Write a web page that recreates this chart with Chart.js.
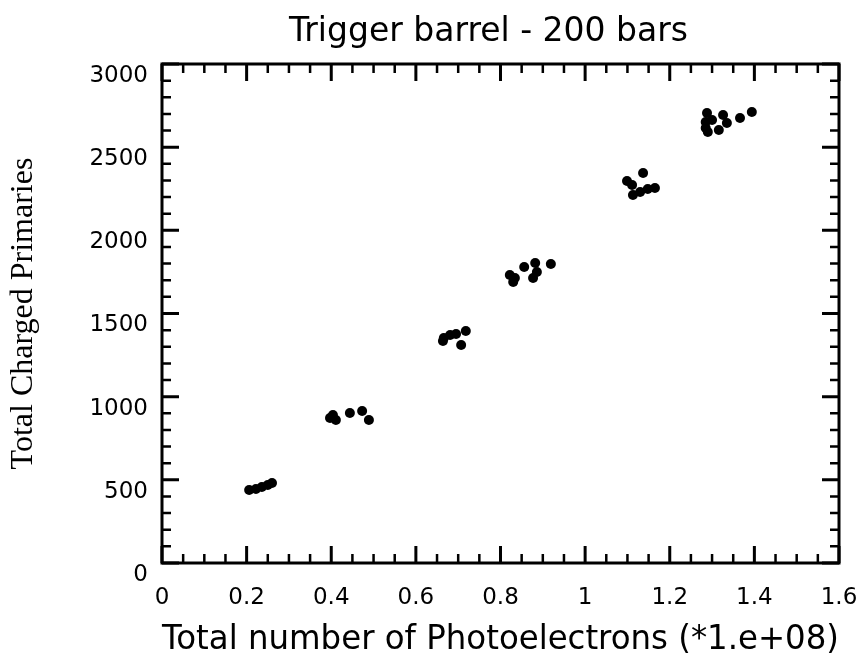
<!DOCTYPE html>
<html>
<head>
<meta charset="utf-8">
<title>Trigger barrel - 200 bars</title>
<script src="https://cdn.jsdelivr.net/npm/chart.js@4/dist/chart.umd.min.js"></script>
<style>
  html, body { margin: 0; padding: 0; background: #fff; }
  #wrap { width: 859px; height: 661px; }
</style>
</head>
<body>
<div id="wrap"><canvas id="chart" width="859" height="661"></canvas></div>
<script>
// Total number of photoelectrons (units of 1e8) per event
const photoelectrons = [
  0.206, 0.222, 0.236, 0.250, 0.260,
  0.397, 0.411, 0.404, 0.444, 0.473, 0.489,
  0.664, 0.666, 0.681, 0.695, 0.718, 0.707,
  0.822, 0.834, 0.830, 0.856, 0.882, 0.886, 0.877, 0.919,
  1.099, 1.111, 1.113, 1.130, 1.137, 1.148, 1.165,
  1.288, 1.285, 1.285, 1.300, 1.290, 1.316, 1.326, 1.335, 1.366, 1.394
];
// Total charged primaries for the same events
const chargedPrimaries = [
  439, 445, 457, 469, 481,
  872, 860, 890, 902, 914, 860,
  1335, 1353, 1371, 1377, 1395, 1311,
  1731, 1713, 1689, 1780, 1804, 1750, 1713, 1798,
  2297, 2273, 2212, 2230, 2345, 2248, 2254,
  2705, 2651, 2615, 2663, 2591, 2603, 2693, 2645, 2675, 2711
];

const xTickLabels = ['0', '0.2', '0.4', '0.6', '0.8', '1', '1.2', '1.4', '1.6'];
const yTickLabels = ['0', '500', '1000', '1500', '2000', '2500', '3000'];

const titleText = 'Trigger barrel - 200 bars';
const xTitle = 'Total number of Photoelectrons (*1.e+08)';
const yTitle = 'Total Charged Primaries';

// axis ranges and tick spacing
const X_MIN = 0, X_MAX = 1.6, X_MAJOR = 0.2, X_MINOR = 0.05;
const Y_MIN = 0, Y_MAX = 3000, Y_MAJOR = 500, Y_MINOR = 100;

const SANS = '"DejaVu Sans", Verdana, sans-serif';
const SERIF = '"Liberation Serif", "Times New Roman", serif';

// closed frame with inward-pointing major/minor ticks on all four sides
const frameTicks = {
  id: 'frameTicks',
  afterDatasetsDraw(chart) {
    const { ctx, chartArea: { left, right, top, bottom }, scales: { x, y } } = chart;
    ctx.save();
    ctx.strokeStyle = '#000';
    ctx.lineCap = 'butt';

    const xn = Math.round((X_MAX - X_MIN) / X_MINOR);
    const xEvery = Math.round(X_MAJOR / X_MINOR);
    for (let i = 0; i <= xn; i++) {
      const major = i % xEvery === 0;
      const px = x.getPixelForValue(X_MIN + i * X_MINOR);
      const len = major ? 17 : 9;
      ctx.lineWidth = major ? 3 : 2.5;
      ctx.beginPath();
      ctx.moveTo(px, bottom); ctx.lineTo(px, bottom - len);
      ctx.moveTo(px, top); ctx.lineTo(px, top + len);
      ctx.stroke();
    }

    const yn = Math.round((Y_MAX - Y_MIN) / Y_MINOR);
    const yEvery = Math.round(Y_MAJOR / Y_MINOR);
    for (let i = 0; i <= yn; i++) {
      const major = i % yEvery === 0;
      const py = y.getPixelForValue(Y_MIN + i * Y_MINOR);
      const len = major ? 17 : 9;
      ctx.lineWidth = major ? 3 : 2.5;
      ctx.beginPath();
      ctx.moveTo(left, py); ctx.lineTo(left + len, py);
      ctx.moveTo(right, py); ctx.lineTo(right - len, py);
      ctx.stroke();
    }

    ctx.lineWidth = 3;
    ctx.strokeRect(left, top, right - left, bottom - top);
    ctx.restore();
  }
};

// heading placed above the plotting frame
const heading = {
  id: 'heading',
  afterDraw(chart) {
    const { ctx, chartArea: { left, right } } = chart;
    ctx.save();
    ctx.fillStyle = '#000';
    ctx.font = '33px ' + SANS;
    ctx.textAlign = 'center';
    ctx.textBaseline = 'alphabetic';
    ctx.fillText(titleText, (left + right) / 2 - 12, 41);
    ctx.restore();
  }
};

new Chart(document.getElementById('chart'), {
  type: 'scatter',
  data: {
    datasets: [{
      data: photoelectrons.map((v, i) => ({ x: v, y: chargedPrimaries[i] })),
      backgroundColor: '#000',
      borderWidth: 0,
      pointRadius: 5,
      pointHoverRadius: 5
    }]
  },
  options: {
    responsive: false,
    animation: false,
    layout: { padding: { top: 64, right: 20, bottom: 0, left: 0 } },
    plugins: {
      legend: { display: false },
      tooltip: { enabled: false },
      title: { display: false }
    },
    scales: {
      x: {
        type: 'linear',
        min: X_MIN, max: X_MAX,
        afterFit(scale) {
          scale.height = 98;
          scale.paddingLeft = 0;
          scale.paddingRight = 0;
        },
        afterBuildTicks(scale) {
          scale.ticks = xTickLabels.map((_, i) => ({ value: X_MIN + i * X_MAJOR }));
        },
        grid: { display: false, drawTicks: false },
        border: { display: false },
        ticks: {
          color: '#000',
          padding: 21,
          maxRotation: 0,
          autoSkip: false,
          font: { family: SANS, size: 23 },
          callback: (v, i) => xTickLabels[i]
        },
        title: {
          display: true,
          text: xTitle,
          color: '#000',
          font: { family: SANS, size: 33, lineHeight: 1.2 },
          padding: { top: 0, bottom: 1 }
        }
      },
      y: {
        type: 'linear',
        min: Y_MIN, max: Y_MAX,
        afterFit(scale) {
          scale.width = 162;
          scale.paddingTop = 0;
          scale.paddingBottom = 0;
        },
        afterBuildTicks(scale) {
          scale.ticks = yTickLabels.map((_, i) => ({ value: Y_MIN + i * Y_MAJOR }));
        },
        grid: { display: false, drawTicks: false },
        border: { display: false },
        ticks: {
          color: '#000',
          padding: 14,
          labelOffset: 12,
          autoSkip: false,
          font: { family: SANS, size: 23 },
          callback: (v, i) => yTickLabels[i]
        },
        title: {
          display: true,
          text: yTitle,
          color: '#000',
          font: { family: SERIF, size: 32, lineHeight: 1.2 },
          padding: { top: 4, bottom: 0 }
        }
      }
    }
  },
  plugins: [frameTicks, heading]
});
</script>
</body>
</html>
